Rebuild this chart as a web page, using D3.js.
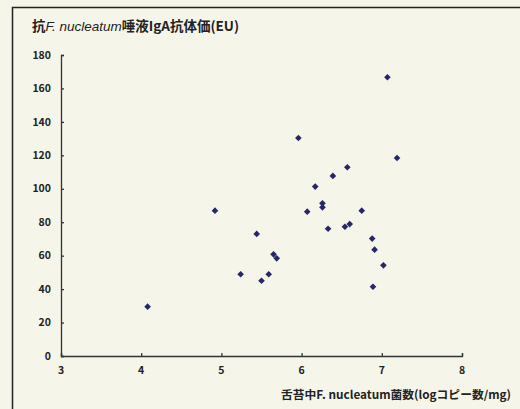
<!DOCTYPE html>
<html><head><meta charset="utf-8">
<script src="https://cdn.jsdelivr.net/npm/d3@7"></script>
<style>
body{margin:0;background:#f6f5ea;}
svg{display:block;}
text{font-family:"Noto Sans CJK JP","Noto Sans",sans-serif;fill:#222;}
</style></head><body>
<svg id="c" width="520" height="409"></svg>
<script>
const xVals = [4.08,4.92,5.24,5.44,5.50,5.59,5.65,5.69,5.96,6.07,6.17,6.26,6.26,6.33,6.39,6.54,6.60,6.57,6.75,6.88,6.91,6.89,7.02,7.07,7.19];
const yVals = [29.5,86.9,48.9,73,45,48.9,60.8,58.4,130.4,86.3,101.3,91.3,88.9,76.1,107.7,77.3,78.9,112.9,86.9,70.2,63.6,41.4,54.2,166.7,118.4];
const xTicks = [3,4,5,6,7,8];
const yTicks = [0,20,40,60,80,100,120,140,160,180];

const svg = d3.select("#c");
svg.append("rect").attr("width",520).attr("height",409).attr("fill","#f6f5ea");
// frame
svg.append("path").attr("d","M12.5,409 V7.5 H520").attr("fill","none").attr("stroke","#222").attr("stroke-width",1.5);

const x = d3.scaleLinear().domain([3,8]).range([61,462]);
const y = d3.scaleLinear().domain([0,180]).range([356,55]);

const gy = svg.append("g").attr("transform","translate(61,0)")
  .call(d3.axisRight(y).tickValues(yTicks).tickSize(3).tickFormat(""));
const gx = svg.append("g").attr("transform","translate(0,356)")
  .call(d3.axisTop(x).tickValues(xTicks).tickSize(3).tickFormat(""));
[gx,gy].forEach(g=>{g.selectAll("path,line").attr("stroke","#333").attr("stroke-width",1.3);});

svg.selectAll(".yl").data(yTicks).enter().append("text")
  .attr("x",51).attr("y",d=>y(d)).attr("dy","0.35em").attr("text-anchor","end")
  .attr("font-size",10.5).attr("font-weight","bold").text(d=>d);
svg.selectAll(".xl").data(xTicks).enter().append("text")
  .attr("x",d=>x(d)).attr("y",370).attr("dy","0.35em").attr("text-anchor","middle")
  .attr("font-size",10.5).attr("font-weight","bold").text(d=>d);

const pts = xVals.map((v,i)=>[v,yVals[i]]);
svg.selectAll(".pt").data(pts).enter().append("path")
  .attr("d",d3.symbol(d3.symbolSquare,22))
  .attr("transform",d=>`translate(${x(d[0])},${y(d[1])}) rotate(45)`)
  .attr("fill","#26266a");

const t = svg.append("text").attr("x",32).attr("y",31).attr("font-size",13.5).attr("font-weight","bold");
t.append("tspan").text("抗");
t.append("tspan").attr("font-style","italic").attr("font-weight","normal").attr("font-family","Liberation Sans, sans-serif").text("F. nucleatum");
t.append("tspan").text("唾液IgA抗体価(EU)");

const xt = svg.append("text").attr("x",281).attr("y",399).attr("font-size",11.5).attr("font-weight","bold")
  .attr("textLength",230).attr("lengthAdjust","spacingAndGlyphs");
xt.text("舌苔中F. nucleatum菌数(logコピー数/mg)");
</script>
</body></html>
